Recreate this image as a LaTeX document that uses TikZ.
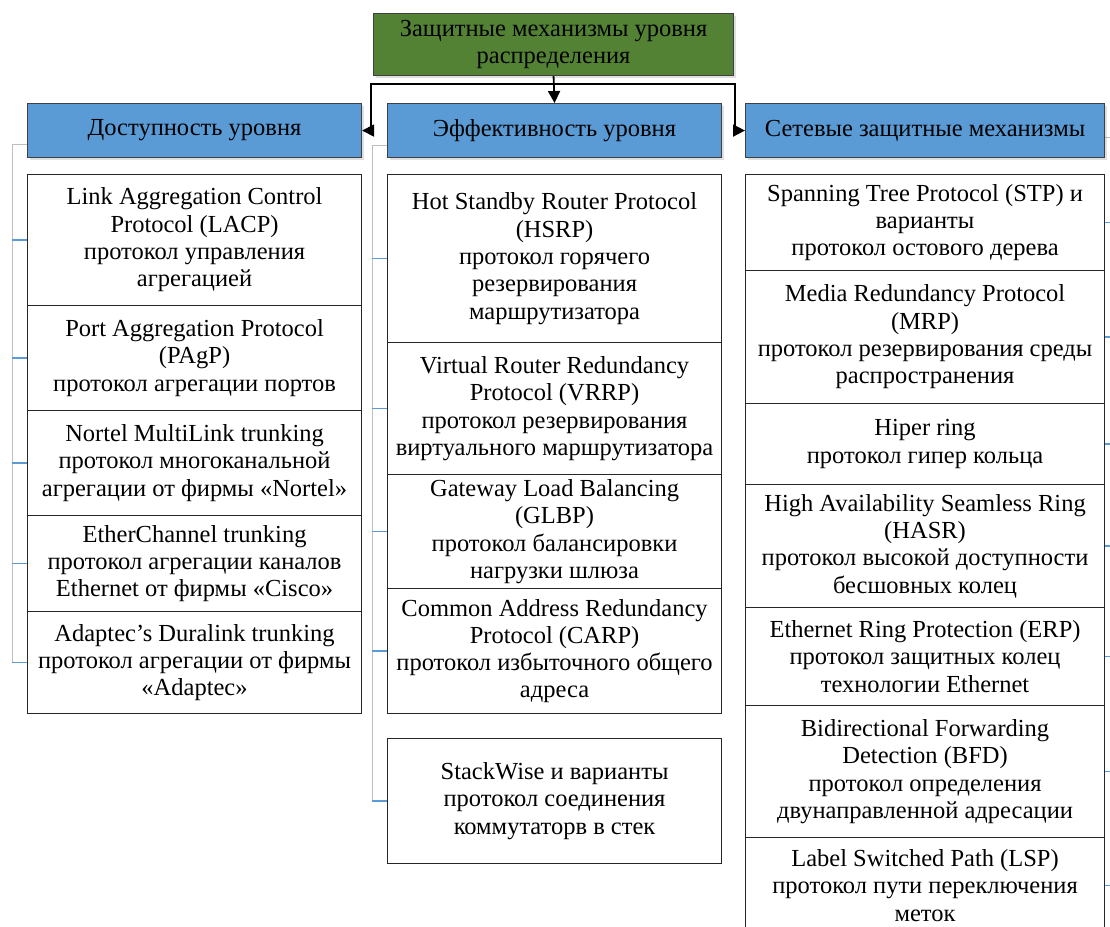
\documentclass[tikz,border=0pt]{standalone}
\usepackage{fontspec}
\setmainfont{Liberation Serif}
\usetikzlibrary{arrows.meta,shadows,backgrounds}
\definecolor{hdrblue}{HTML}{5B9BD5}
\definecolor{rootgreen}{HTML}{548235}
\definecolor{railgray}{HTML}{BFBFBF}
\tikzset{
  item/.style={draw=black!85, line width=1.1pt, fill=white, anchor=north west,
    align=center, inner sep=0pt, font=\fontsize{24.5}{27.3}\selectfont},
  head/.style={item, fill=hdrblue, draw=black!75, minimum height=54pt,
    drop shadow={shadow xshift=2pt, shadow yshift=-2.5pt, opacity=0.25}},
  link/.style={line width=1.8pt, -{Triangle[length=12pt,width=12pt]}},
  rail/.style={railgray, line width=1pt},
  tick/.style={hdrblue, line width=1.3pt},
}

\begin{document}
\begin{tikzpicture}[x=1pt,y=-1pt]
  \clip (0,0) rectangle (1110,926);
  \node[head, fill=rootgreen, minimum width=360pt, minimum height=62pt] (root) at (373,13)
    {Защитные механизмы уровня\\распределения};
  \node[head, minimum width=334pt] (acc) at (27,103) {Доступность уровня};
  \node[head, minimum width=334pt] (eff) at (387,103) {Эффективность уровня};
  \node[head, minimum width=359pt] (net) at (745,103) {Сетевые защитные механизмы};

  \coordinate (busL) at (371,84);
  \coordinate (busR) at (735,84);
  \draw[link] (root.south) -- (eff.north);
  \draw[link] (root.south |- busL) -- (busL) |- (acc.east);
  \draw[link] (root.south |- busR) -- (busR) |- (net.west);

  \tikzstyle{accbox}=[item, minimum width=334pt]
  \node[accbox, minimum height=131pt] (acc1) at (27,174)
    {Link Aggregation Control\\Protocol (LACP)\\протокол управления\\агрегацией};
  \node[accbox, minimum height=105pt] (acc2) at (27,305)
    {Port Aggregation Protocol\\(PAgP)\\протокол агрегации портов};
  \node[accbox, minimum height=105pt] (acc3) at (27,410)
    {Nortel MultiLink trunking\\протокол многоканальной\\агрегации от фирмы «Nortel»};
  \node[accbox, minimum height=96pt] (acc4) at (27,515)
    {EtherChannel trunking\\протокол агрегации каналов\\Ethernet от фирмы «Cisco»};
  \node[accbox, minimum height=102pt] (acc5) at (27,611)
    {Adaptec’s Duralink trunking\\протокол агрегации от фирмы\\«Adaptec»};

  \tikzstyle{effbox}=[item, minimum width=334pt]
  \node[effbox, minimum height=168pt] (eff1) at (387,174)
    {Hot Standby Router Protocol\\(HSRP)\\протокол горячего\\резервирования\\маршрутизатора};
  \node[effbox, minimum height=132pt] (eff2) at (387,342)
    {Virtual Router Redundancy\\Protocol (VRRP)\\протокол резервирования\\виртуального маршрутизатора};
  \node[effbox, minimum height=114pt] (eff3) at (387,474)
    {Gateway Load Balancing\\(GLBP)\\протокол балансировки\\нагрузки шлюза};
  \node[effbox, minimum height=125pt] (eff4) at (387,588)
    {Common Address Redundancy\\Protocol (CARP)\\протокол избыточного общего\\адреса};
  \node[effbox, minimum height=125pt] (eff5) at (387,738)
    {StackWise и варианты\\протокол соединения\\коммутаторв в стек};

  \tikzstyle{netbox}=[item, minimum width=359pt]
  \node[netbox, minimum height=96pt] (net1) at (745,174)
    {Spanning Tree Protocol (STP) и\\варианты\\протокол остового дерева};
  \node[netbox, minimum height=133pt] (net2) at (745,270)
    {Media Redundancy Protocol\\(MRP)\\протокол резервирования среды\\распространения};
  \node[netbox, minimum height=81pt] (net3) at (745,403)
    {Hiper ring\\протокол гипер кольца};
  \node[netbox, minimum height=123pt] (net4) at (745,484)
    {High Availability Seamless Ring\\(HASR)\\протокол высокой доступности\\бесшовных колец};
  \node[netbox, minimum height=98pt] (net5) at (745,607)
    {Ethernet Ring Protection (ERP)\\протокол защитных колец\\технологии Ethernet};
  \node[netbox, minimum height=132pt] (net6) at (745,705)
    {Bidirectional Forwarding\\Detection (BFD)\\протокол определения\\двунаправленной адресации};
  \node[netbox, minimum height=96pt] (net7) at (745,837)
    {Label Switched Path (LSP)\\протокол пути переключения\\меток};

  \begin{scope}[on background layer]
    \coordinate (accRail) at (12,144);
    \coordinate (effRail) at (372,145);
    \coordinate (netRail) at (1116,137);
    \draw[rail] (acc.west |- accRail) -- (accRail) -- (accRail |- acc5.west);
    \draw[rail] (eff.west |- effRail) -- (effRail) -- (effRail |- eff5.west);
    \draw[rail] (net.east |- netRail) -- (netRail) -- (netRail |- net7.east);
    \foreach \n in {1,...,5} {
      \draw[tick] (accRail |- acc\n.west) -- (acc\n.west);
      \draw[tick] (effRail |- eff\n.west) -- (eff\n.west);
    }
    \foreach \n in {1,...,7}
      \draw[tick] (netRail |- net\n.east) -- (net\n.east);
  \end{scope}
\end{tikzpicture}
\end{document}
